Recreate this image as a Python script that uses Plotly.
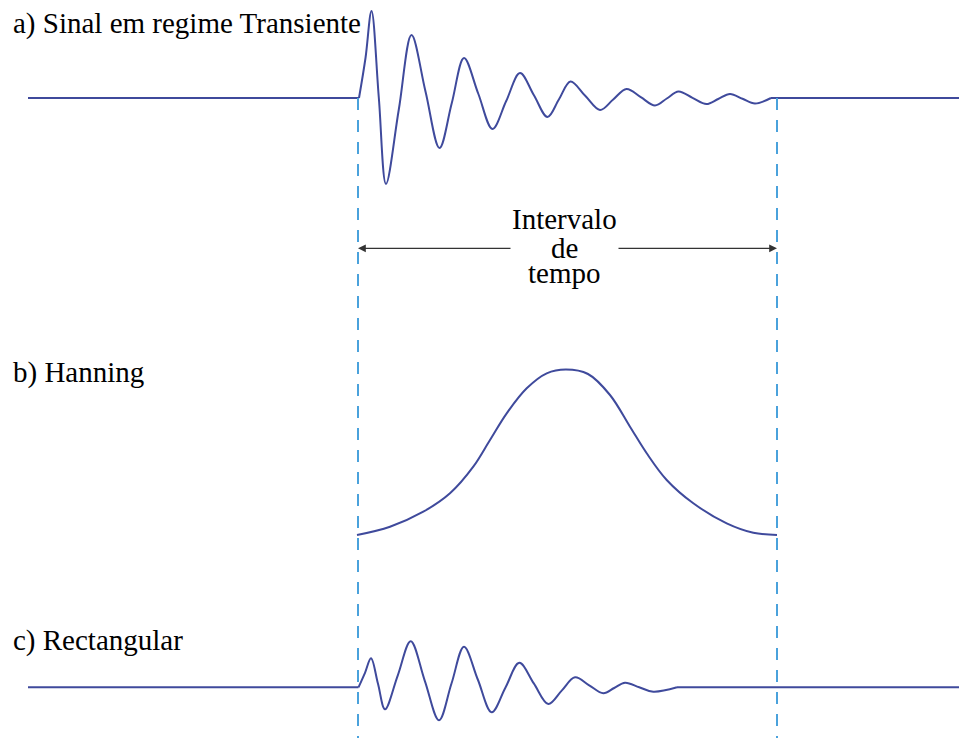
import plotly.graph_objects as go

# ---- time axis extents (same units for all three traces) ----
T_START = 28          # first sample shown on the baselines
T_END = 959           # last sample shown
WIN_START = 358       # start of the time window
WIN_END = 777         # end of the time window

# ---- a) transient signal: extrema with the inflection points between them ----
transient_t = [359, 365.5, 371.5, 378.8, 386, 398.8, 411.5, 425.5, 439.5,
               451.8, 464, 478.2, 492.5, 506.2, 520, 533.8, 547.5, 559,
               570.5, 585.2, 600, 613.2, 626.5, 640.8, 655, 666.8, 678.5,
               692.5, 706.5, 718.2, 730, 742.5, 755, 771]
transient_amp = [0, 40, 87, 0.5, -86, -11.5, 63, 6.5, -50,
                 -5, 40, 4.5, -31, -3, 25, 3, -19, -1.2,
                 16.5, 2.2, -12, -1.5, 9, 0.8, -7.5, -0.5, 6.5,
                 0.2, -6, -1, 4, -0.8, -5.5, 0]

# ---- b) Hanning window samples ----
hanning_t = [357, 390, 423.3, 450, 473.3, 490, 506.7, 526.7, 546.7, 566,
             588, 610, 630, 646.7, 666.7, 693.3, 726.7, 753.3, 777]
hanning_amp = [0, 8.3, 23.3, 41.7, 68.3, 95, 121.7, 146.7, 161.7, 165.5,
               161, 140, 108.3, 81.7, 55, 31.7, 11.7, 2.3, 0]

# ---- c) signal seen through the rectangular window ----
rect_t = [358.5, 365, 371, 378, 385, 397.8, 410.7, 424.8, 439, 451.5,
          464, 477.8, 491.7, 505.5, 519.3, 533.8, 548.3, 561.7, 575,
          589.2, 603.3, 614.2, 625, 639.2, 653.3, 677]
rect_amp = [0, 14.5, 29, 3.5, -22, 12, 46, 6.5, -33, 3.8,
            40.5, 7.8, -25, -0.2, 24.5, 3.9, -16.7, -3.3, 10,
            2, -6, -0.7, 4.6, 0.1, -4.4, 0]

labels = ["a) Sinal em regime Transiente", "b) Hanning", "c) Rectangular"]
interval_words = ["Intervalo", "de", "tempo"]

# ---- layout constants (pixel-like canvas, y grows downward) ----
W, H = 959, 740
BASE_A, BASE_B, BASE_C = 98, 535, 687.3
CURVE = "#3f4a9c"
DASH = "#4aa2dc"
FONT = "Liberation Serif"
FS = 29

fig = go.Figure()

def add_line(xs, ys, smoothing=None):
    # keep every sample: the spline needs the inflection points too
    line = dict(color=CURVE, width=2, simplify=False)
    if smoothing is None:
        line["shape"] = "linear"
    else:
        line["shape"] = "spline"
        line["smoothing"] = smoothing
    fig.add_trace(go.Scatter(x=xs, y=ys, mode="lines", line=line,
                             hoverinfo="skip", showlegend=False))

# a) flat baselines + oscillation
add_line([T_START, transient_t[0]], [BASE_A, BASE_A])
add_line(transient_t, [BASE_A - a for a in transient_amp], smoothing=1.0)
add_line([transient_t[-1], T_END], [BASE_A, BASE_A])

# b) Hanning window
add_line(hanning_t, [BASE_B - a for a in hanning_amp], smoothing=1.0)

# c) flat baselines + truncated oscillation
add_line([T_START, rect_t[0]], [BASE_C, BASE_C])
add_line(rect_t, [BASE_C - a for a in rect_amp], smoothing=1.0)
add_line([rect_t[-1], T_END], [BASE_C, BASE_C])

shapes = []
for xv in (WIN_START, WIN_END):
    shapes.append(dict(type="line", xref="x", yref="y",
                       x0=xv, x1=xv, y0=BASE_A, y1=738,
                       line=dict(color=DASH, width=2, dash="12px,10px")))

annotations = []
label_y = [23, 372.5, 640.5]
for txt, yv in zip(labels, label_y):
    annotations.append(dict(x=11, y=yv, xref="x", yref="y", text=txt,
                            showarrow=False, xanchor="left", yanchor="middle",
                            font=dict(family=FONT, size=FS, color="#000000")))

word_y = [219, 247.5, 272.5]
for txt, yv in zip(interval_words, word_y):
    annotations.append(dict(x=564.5, y=yv, xref="x", yref="y", text=txt,
                            showarrow=False, xanchor="center", yanchor="middle",
                            font=dict(family=FONT, size=FS, color="#000000")))

# double-headed arrow split around the centred words
ARROW_Y = 248.3
for tip, tail in ((WIN_START, 512), (WIN_END, 617)):
    annotations.append(dict(x=tip, y=ARROW_Y, ax=tail, ay=ARROW_Y,
                            xref="x", yref="y", axref="x", ayref="y",
                            text="", showarrow=True, arrowhead=2,
                            arrowsize=1.3, arrowwidth=1.2,
                            arrowcolor="#333333"))

fig.update_layout(
    width=W, height=H,
    margin=dict(l=0, r=0, t=0, b=0),
    paper_bgcolor="white", plot_bgcolor="white",
    xaxis=dict(range=[0, W], visible=False, fixedrange=True),
    yaxis=dict(range=[H, 0], visible=False, fixedrange=True),
    shapes=shapes, annotations=annotations,
)

fig.write_html("out.html")
